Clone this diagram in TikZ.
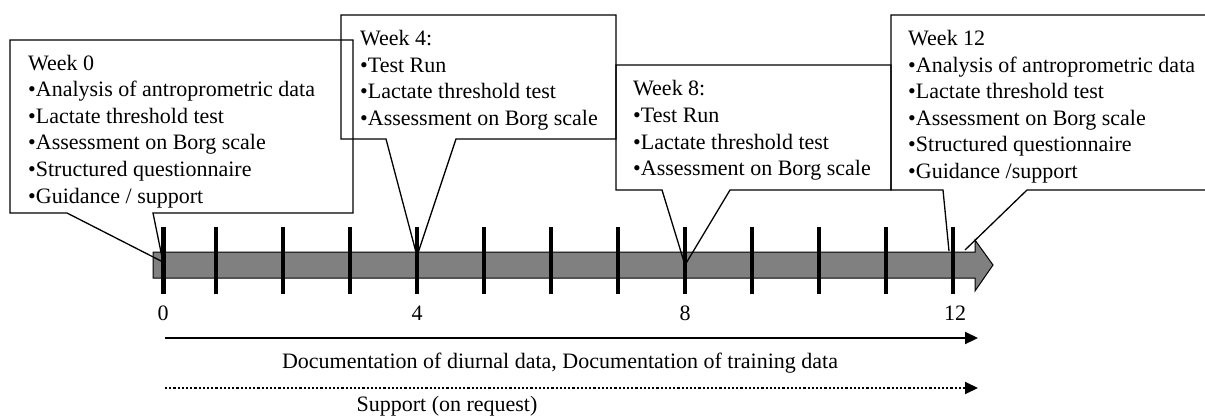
\documentclass[tikz,border=0pt]{standalone}
\usepackage{fontspec}
\setmainfont{Liberation Serif}
\usetikzlibrary{arrows.meta}
\definecolor{bargray}{RGB}{128,128,128}
\begin{document}
\begin{tikzpicture}[x=1pt,y=-1pt,
  callout/.style={draw=black,line width=1.3pt,line join=miter},
  tickmark/.style={draw=black,line width=3.4pt},
  txt/.style={font=\fontsize{22}{26.6}\selectfont,inner sep=0pt,align=left,anchor=base west},
  lbl/.style={font=\fontsize{22}{26.6}\selectfont,inner sep=0pt,anchor=base},
  timeline/.style={draw=black,line width=2.2pt,-{Triangle[length=13pt,width=12pt]}},
]
\useasboundingbox (0,0) rectangle (1205,417);
\begin{scope}
\clip (0,0) rectangle (1205,417);
% main time arrow
\draw[fill=bargray,line width=1pt,line join=miter] (153,252) -- (975,252) -- (975,240) -- (993,265) -- (975,291) -- (975,278) -- (153,278) -- cycle;
% ticks
\draw[tickmark,line width=5pt] (163,227) -- (163,294);
\foreach \x in {216,283,350,417,484,551,618,685,752,819,886,953}
  \draw[tickmark] (\x,227) -- (\x,294);
% callouts
\draw[callout] (10,40) -- (353,40) -- (353,213) -- (153,213) -- (163,262) -- (67,213) -- (10,213) -- cycle;
\draw[callout] (341,15) -- (616,15) -- (616,139) -- (456,139) -- (417,256) -- (386,139) -- (341,139) -- cycle;
\draw[callout] (616,65) -- (891,65) -- (891,190) -- (730,190) -- (685,265) -- (662,190) -- (616,190) -- cycle;
\draw[callout] (949,251) -- (943,190) -- (891,190) -- (891,15) -- (1215,15);
\draw[callout] (1215,190) -- (1027,190) -- (965,250);
\end{scope}
% callout texts (base anchor = baseline of the last line)
\node[txt] (w0) at (28,203) {Week 0\\\textbullet Analysis of antroprometric data\\\textbullet Lactate threshold test\\\textbullet Assessment on Borg scale\\\textbullet Structured questionnaire\\\textbullet Guidance / support};
\node[txt] (w4) at (360,125.3) {Week 4:\\\textbullet Test Run\\\textbullet Lactate threshold test\\\textbullet Assessment on Borg scale};
\node[txt] (w8) at (633,175.8) {Week 8:\\\textbullet Test Run\\\textbullet Lactate threshold test\\\textbullet Assessment on Borg scale};
\node[txt] (w12) at (908,178.5) {Week 12\\\textbullet Analysis of antroprometric data\\\textbullet Lactate threshold test\\\textbullet Assessment on Borg scale\\\textbullet Structured questionnaire\\\textbullet Guidance /support};
% week numbers
\node[lbl] (n0) at (163,320.5) {0};
\node[lbl] (n4) at (417,320.5) {4};
\node[lbl] (n8) at (685,320.5) {8};
\node[lbl] (n12) at (955,320.5) {12};
% bottom arrows
\coordinate (d0) at (165,338);
\coordinate (d1) at (978,338);
\coordinate (s0) at (165,388);
\coordinate (s1) at (978,388);
\draw[timeline] (d0) -- (d1);
\draw[timeline,dotted,line width=2pt] (s0) -- (s1);
\node[lbl] (doc) at (560,368) {Documentation of diurnal data, Documentation of training data};
\node[lbl] (sup) at (447,411.5) {Support (on request)};
\end{tikzpicture}
\end{document}
